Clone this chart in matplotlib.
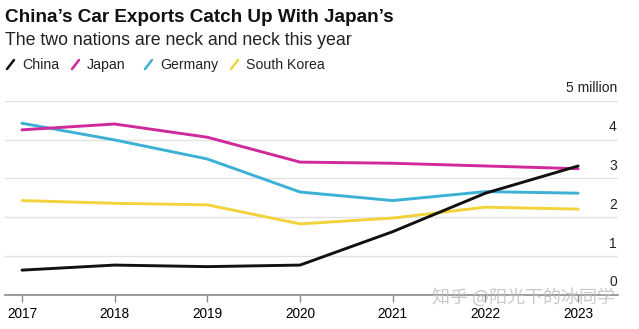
import matplotlib.pyplot as plt
from matplotlib.lines import Line2D
import matplotlib.transforms as mtransforms

# ---- Data (million cars) ----
years     = [2017, 2018, 2019, 2020, 2021, 2022, 2023]
china     = [0.64, 0.77, 0.73, 0.77, 1.63, 2.62, 3.32]
japan     = [4.25, 4.40, 4.06, 3.42, 3.39, 3.32, 3.25]
germany   = [4.42, 3.99, 3.50, 2.65, 2.43, 2.66, 2.62]
korea     = [2.43, 2.36, 2.32, 1.83, 1.98, 2.26, 2.21]
names     = ["China", "Japan", "Germany", "South Korea"]
ytick_lbl = ["0", "1", "2", "3", "4", "5 million"]

colors = ["#111111", "#d0299a", "#3db0d6", "#f2d33c"]
FONT = "Liberation Sans"

fig = plt.figure(figsize=(6.39, 3.29), dpi=100)
W, H = 639, 329

# axes placed in pixel terms
left, right, top, bottom = 5, 618, 100.7, 295
ax = fig.add_axes([left / W, (H - bottom) / H, (right - left) / W, (bottom - top) / H])

for series, c in zip([korea, germany, japan, china], [colors[3], colors[2], colors[1], colors[0]]):
    ax.plot(years, series, color=c, linewidth=2.1, solid_capstyle="round", solid_joinstyle="round")

ax.set_ylim(0, 5)
ax.set_xlim(2016.817, 2023.43)

for s in ["top", "right", "left"]:
    ax.spines[s].set_visible(False)
ax.spines["bottom"].set_color("#8a8a8a")
ax.spines["bottom"].set_linewidth(1.2)

for v in range(1, 6):
    ax.axhline(v, color="#e2e2e2", linewidth=1.0, zorder=0)

ax.set_yticks([])
ax.set_xticks(years)
ax.set_xticklabels([str(y) for y in years], fontsize=9.8, family=FONT)
ax.tick_params(axis="x", length=5, color="#8a8a8a", width=1.0, pad=4)

# right-hand value labels sitting above gridlines
trans = mtransforms.blended_transform_factory(ax.transAxes, ax.transData)
offset = mtransforms.ScaledTranslation(0, 4 / 72, fig.dpi_scale_trans)
for v, lbl in enumerate(ytick_lbl):
    ax.text(0.998, v, lbl, transform=trans + offset, ha="right", va="bottom",
            fontsize=10, family=FONT, color="#222222")

# ---- Title, subtitle, legend ----
fig.text(5 / W, 1 - 22 / H, "China\u2019s Car Exports Catch Up With Japan\u2019s",
         fontsize=13.6, fontweight="bold", family=FONT, color="#111111", va="baseline")
fig.text(5 / W, 1 - 45 / H, "The two nations are neck and neck this year",
         fontsize=12.8, family=FONT, color="#222222", va="baseline")

leg_x = [7, 72, 145, 231]
for x0, name, c in zip(leg_x, names, colors):
    fig.add_artist(Line2D([x0 / W, (x0 + 7) / W], [1 - 69 / H, 1 - 60 / H],
                          color=c, linewidth=1.8, transform=fig.transFigure,
                          solid_capstyle="round"))
    fig.text((x0 + 15) / W, 1 - 69 / H, name, fontsize=10.2, family=FONT,
             color="#222222", va="baseline")

# watermark
fig.text(432 / W, 1 - 297 / H, "知乎 @阳光下的冰同学", fontsize=13,
         family=["Noto Sans CJK SC", "DejaVu Sans"], color="#bbbbbb", alpha=0.8,
         va="center", ha="left")

plt.savefig("out.png", dpi=100)
